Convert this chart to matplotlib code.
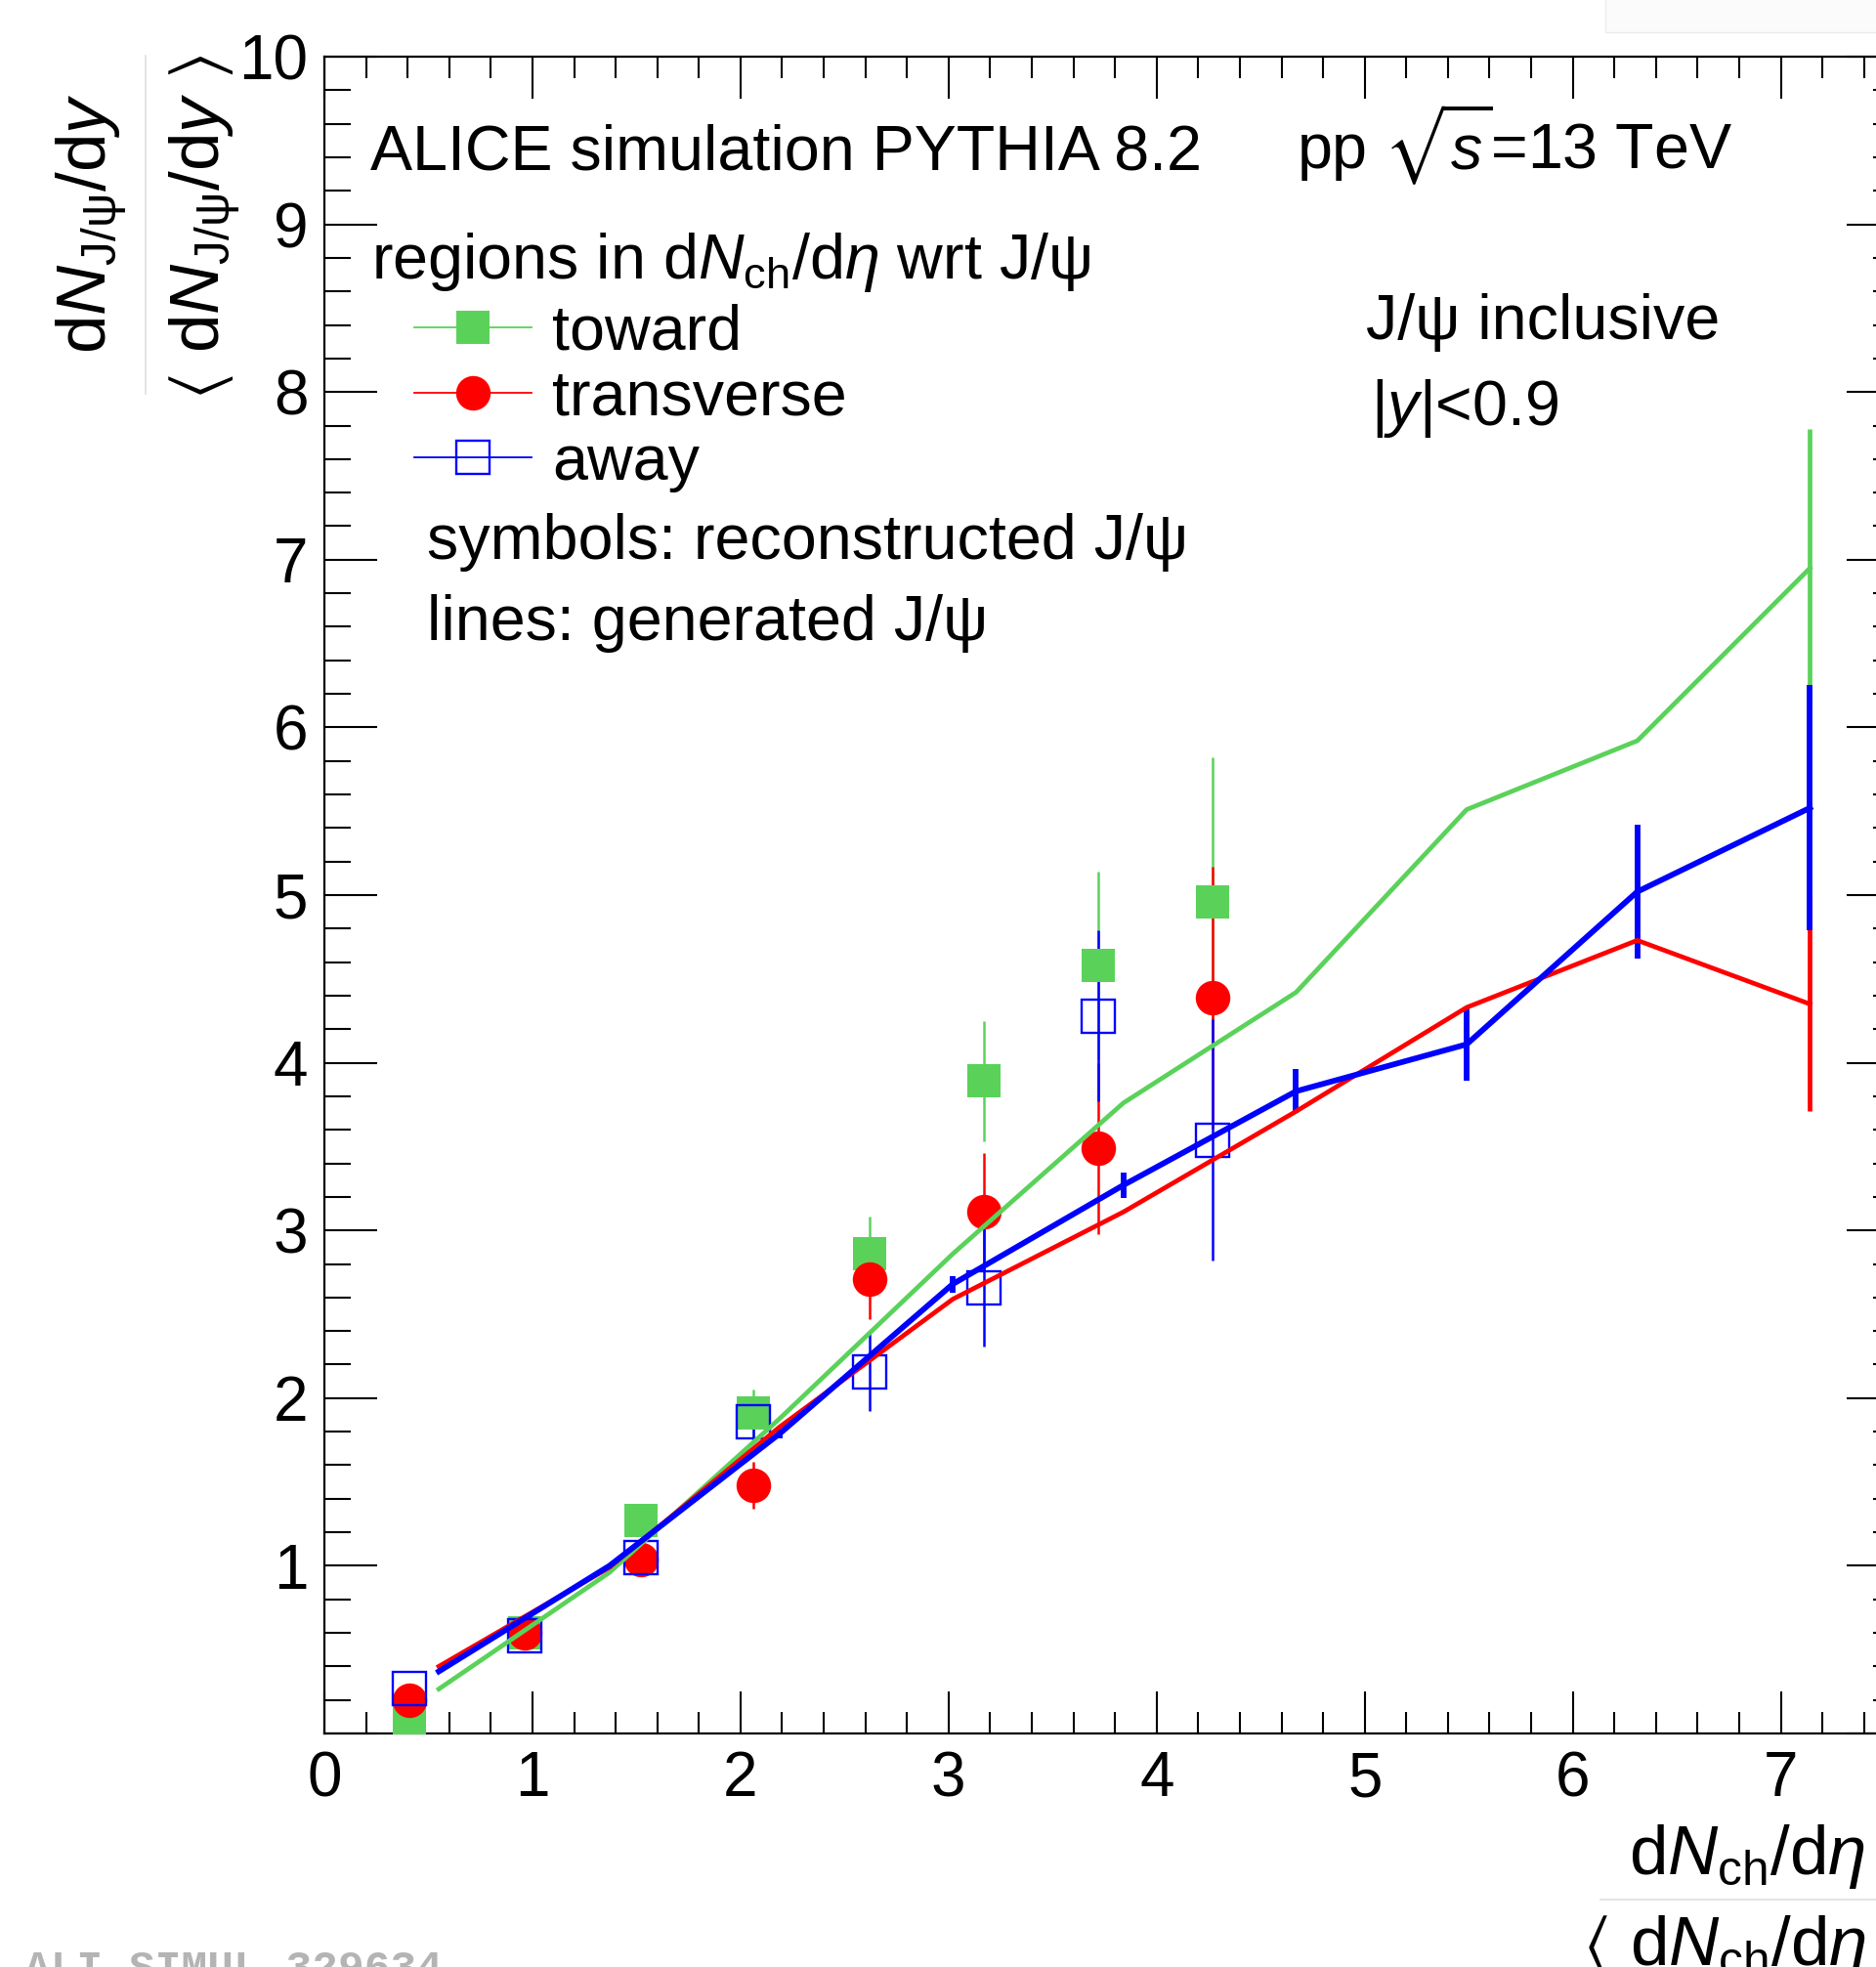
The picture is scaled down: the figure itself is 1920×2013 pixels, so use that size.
import matplotlib
matplotlib.use("Agg")
import matplotlib.pyplot as plt
from matplotlib.lines import Line2D
from matplotlib.patches import Rectangle

# reconstructed J/psi (symbols)
x_rec = [0.41, 0.965, 1.52, 2.06, 2.62, 3.17, 3.72, 4.27]
toward_rec = [0.07, 0.60, 1.27, 1.91, 2.86, 3.89, 4.58, 4.96]
toward_rec_err = [0.03, 0.04, 0.07, 0.14, 0.22, 0.36, 0.56, 0.86]
trans_rec = [0.20, 0.60, 1.04, 1.48, 2.71, 3.11, 3.49, 4.39]
trans_rec_err = [0.03, 0.04, 0.07, 0.14, 0.24, 0.35, 0.51, 0.78]
away_rec = [0.27, 0.58, 1.05, 1.86, 2.155, 2.66, 4.28, 3.54]
away_rec_err = [0.03, 0.04, 0.07, 0.13, 0.23, 0.35, 0.51, 0.72]

# generated J/psi (lines)
x_gen = [0.55, 1.37, 2.19, 3.02, 3.84, 4.67, 5.49, 6.31, 7.14]
toward_gen = [0.265, 0.96, 1.88, 2.86, 3.76, 4.42, 5.51, 5.92, 6.95]
toward_gen_err = [0, 0, 0, 0, 0, 0, 0, 0, 0.83]
trans_gen = [0.40, 0.99, 1.83, 2.59, 3.11, 3.71, 4.33, 4.73, 4.35]
trans_gen_err = [0, 0, 0, 0, 0, 0, 0, 0, 0.64]
away_gen = [0.37, 1.00, 1.79, 2.68, 3.27, 3.83, 4.11, 5.02, 5.52]
away_gen_err = [0, 0, 0.03, 0.05, 0.075, 0.13, 0.22, 0.40, 0.73]

x_ticks = [0, 1, 2, 3, 4, 5, 6, 7]
y_ticks = [0, 1, 2, 3, 4, 5, 6, 7, 8, 9, 10]
y_tick_labels = ["", "1", "2", "3", "4", "5", "6", "7", "8", "9", "10"]

GREEN = "#5ad25a"
RED = "#ff0000"
BLUE = "#0000ff"

plt.rcParams["font.family"] = ["Liberation Sans", "DejaVu Sans"]
plt.rcParams["mathtext.fontset"] = "custom"
plt.rcParams["mathtext.rm"] = "Liberation Sans"
plt.rcParams["mathtext.it"] = "Liberation Sans:italic"
plt.rcParams["mathtext.bf"] = "Liberation Sans:bold"
plt.rcParams["mathtext.fallback"] = "stixsans"

W, H = 1920, 2013


def fx(px):
    return px / W


def fy(py):
    return 1 - py / H


fig = plt.figure(figsize=(W / 100, H / 100), dpi=100)
ax = fig.add_axes([fx(332), fy(1774), (1944 - 332) / W, (1774 - 58) / H])

# reconstructed symbols
ax.errorbar(x_rec, toward_rec, yerr=toward_rec_err, fmt="s", color=GREEN,
            ms=24.5, mew=0, elinewidth=1.8, capsize=0, zorder=3)
ax.errorbar(x_rec, trans_rec, yerr=trans_rec_err, fmt="o", color=RED,
            ms=25.5, mew=0, elinewidth=1.8, capsize=0, zorder=3)
ax.errorbar(x_rec, away_rec, yerr=away_rec_err, fmt="s", color=BLUE,
            mfc="none", mec=BLUE, ms=25, mew=1.7, elinewidth=1.8, capsize=0, zorder=3)

# generated lines
ax.errorbar(x_gen, toward_gen, yerr=toward_gen_err, color=GREEN, lw=3.4,
            elinewidth=3.4, capsize=0, zorder=4)
ax.errorbar(x_gen, trans_gen, yerr=trans_gen_err, color=RED, lw=3.4,
            elinewidth=3.4, capsize=0, zorder=4)
ax.errorbar(x_gen, away_gen, yerr=away_gen_err, color=BLUE, lw=4.2,
            elinewidth=4.2, capsize=0, zorder=4)

ax.set_xlim(0, 7.57)
ax.set_ylim(0, 10)
ax.set_xticks(x_ticks)
ax.set_xticks([i * 0.2 for i in range(38)], minor=True)
ax.set_yticks(y_ticks)
ax.set_yticklabels(y_tick_labels)
ax.set_yticks([i * 0.2 for i in range(51)], minor=True)
ax.tick_params(axis="both", which="both", direction="in", top=True, right=True,
               width=1.5, labelsize=46, colors="black")
ax.tick_params(axis="x", which="major", length=31, pad=12.5)
ax.tick_params(axis="x", which="minor", length=15.8)
ax.tick_params(axis="y", which="major", length=38.9, pad=12)
ax.tick_params(axis="y", which="minor", length=19.4)
for sp in ax.spines.values():
    sp.set_linewidth(1.6)

# legend
handles = [
    Line2D([], [], color=GREEN, lw=1.3, marker="s", ms=24.5, mew=0),
    Line2D([], [], color=RED, lw=1.3, marker="o", ms=25.5, mew=0),
    Line2D([], [], color=BLUE, lw=1.3, marker="s", ms=25, mfc="none", mec=BLUE, mew=1.7),
]
ax.legend(handles, ["toward", "transverse", "away"], loc="upper left",
          bbox_to_anchor=(fx(424), fy(311)), bbox_transform=fig.transFigure,
          frameon=False, fontsize=46.5, numpoints=1, borderpad=0, borderaxespad=0,
          handlelength=1.86, handletextpad=0.33, labelspacing=0.1)

# annotations
txt = dict(fontsize=46.5, ha="left", va="baseline")
fig.text(fx(379), fy(173), "ALICE simulation PYTHIA 8.2", **txt)
fig.text(fx(1327), fy(173), r"pp $\sqrt{s}$=13 TeV", **txt)
fig.text(fx(380), fy(285), r"regions in d$N_{\mathrm{ch}}$/d$\eta$ wrt J/ψ", **txt)
fig.text(fx(437), fy(572), "symbols: reconstructed J/ψ", **txt)
fig.text(fx(437), fy(655), "lines: generated J/ψ", **txt)
fig.text(fx(1398), fy(347), "J/ψ inclusive", **txt)
fig.text(fx(1403), fy(435), r"|$y$|<0.9", **txt)

# axis titles as fractions
ttl = dict(fontsize=51, ha="center", va="baseline")
fig.text(fx(1788), fy(1918), r"d$N_{\mathrm{ch}}$/d$\eta$", **ttl)
fig.text(fx(1788), fy(2011), r"$\langle$ d$N_{\mathrm{ch}}$/d$\eta$ $\rangle$", **ttl)
fig.add_artist(Line2D([fx(1638), fx(1938)], [fy(1944), fy(1944)],
                      color="#dedede", lw=1.2, transform=fig.transFigure))

fig.text(fx(108), fy(229), r"d$N_{\mathrm{J/\psi}}$/d$y$", rotation=90,
         rotation_mode="anchor", **ttl)
fig.text(fx(224), fy(232), r"$\langle$ d$N_{\mathrm{J/\psi}}$/d$y$ $\rangle$",
         rotation=90, rotation_mode="anchor", **ttl)
fig.add_artist(Line2D([fx(149), fx(149)], [fy(57), fy(403)],
                      color="#dedede", lw=1.2, transform=fig.transFigure))

# watermark and faint corner box
fig.text(fx(25), fy(2027), "ALI-SIMUL-329634", fontsize=32, family="Liberation Mono",
         weight="bold", color="#b4b4b4", ha="left", va="baseline")
fig.add_artist(Rectangle((fx(1643), fy(33)), fx(1925) - fx(1643), fy(-5) - fy(33),
                         transform=fig.transFigure, facecolor="#fbfbfb",
                         edgecolor="#ececec", lw=1.0))

fig.savefig("out.png", dpi=100)
